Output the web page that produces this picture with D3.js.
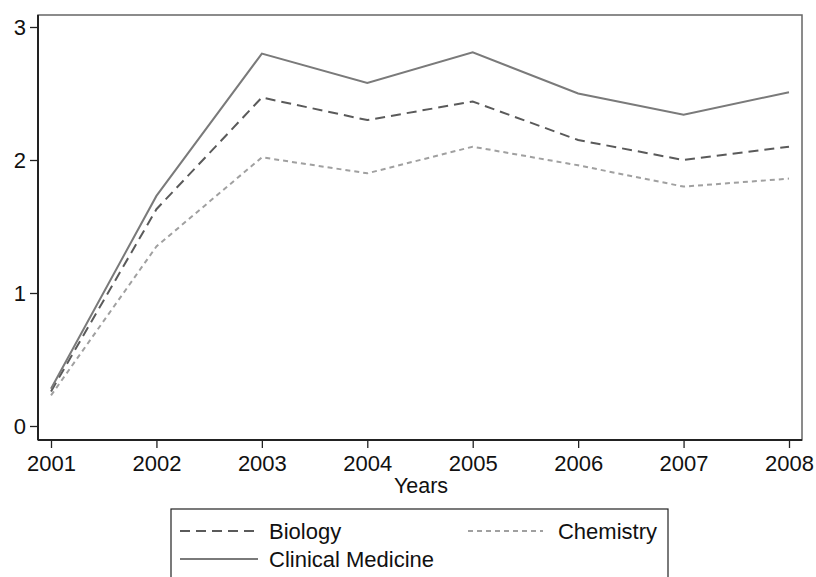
<!DOCTYPE html>
<html>
<head>
<meta charset="utf-8">
<script src="https://cdn.jsdelivr.net/npm/d3@7"></script>
<style>
  body { margin: 0; background: #fff; }
  text { font-family: "Liberation Sans", Arial, sans-serif; fill: #111; }
</style>
</head>
<body>
<script>
const years = [2001, 2002, 2003, 2004, 2005, 2006, 2007, 2008]
const biology = [0.26, 1.63, 2.47, 2.30, 2.44, 2.15, 2.00, 2.10]
const chemistry = [0.23, 1.35, 2.02, 1.90, 2.10, 1.96, 1.80, 1.86]
const clinical = [0.28, 1.73, 2.80, 2.58, 2.81, 2.50, 2.34, 2.51]
const yTicks = [0, 1, 2, 3]

const width = 816, height = 577
const frame = {left: 38, top: 15, right: 802, bottom: 440}

const svg = d3.select("body").append("svg")
    .attr("width", width)
    .attr("height", height)

// scales
const x = d3.scaleLinear().domain([2001, 2008]).range([51, 789])
const y = d3.scaleLinear().domain([0, 3]).range([426, 27])

// plot region outline
svg.append("rect")
    .attr("x", frame.left).attr("y", frame.top)
    .attr("width", frame.right - frame.left)
    .attr("height", frame.bottom - frame.top)
    .attr("fill", "none")
    .attr("stroke", "#666")
    .attr("stroke-width", 1.5)

// y axis
const yAxis = svg.append("g")
    .attr("transform", "translate(" + frame.left + ",0)")
    .call(d3.axisLeft(y).tickValues(yTicks).tickFormat(d3.format("d")).tickSize(8).tickPadding(4))
yAxis.select(".domain").remove()
yAxis.append("line")
    .attr("y1", frame.top).attr("y2", frame.bottom)
    .attr("stroke", "#222").attr("stroke-width", 2)
yAxis.selectAll(".tick line").attr("stroke", "#222").attr("stroke-width", 1.3)
yAxis.selectAll(".tick text")
    .attr("font-size", "22px")
    .attr("font-family", "Liberation Sans, Arial, sans-serif")
    .attr("fill", "#111")

// x axis
const xAxis = svg.append("g")
    .attr("transform", "translate(0," + frame.bottom + ")")
    .call(d3.axisBottom(x).tickValues(years).tickFormat(d3.format("d")).tickSize(8).tickPadding(7))
xAxis.select(".domain").remove()
xAxis.append("line")
    .attr("x1", frame.left).attr("x2", frame.right)
    .attr("stroke", "#222").attr("stroke-width", 2)
xAxis.selectAll(".tick line").attr("stroke", "#222").attr("stroke-width", 1.3)
xAxis.selectAll(".tick text")
    .attr("font-size", "22px")
    .attr("font-family", "Liberation Sans, Arial, sans-serif")
    .attr("fill", "#111")

svg.append("text")
    .attr("x", 421).attr("y", 493)
    .attr("text-anchor", "middle")
    .attr("font-size", "21.5px")
    .text("Years")

// series
const series = [
    {name: "Biology", values: biology, color: "#5a5a5a", dash: "10,6", width: 2},
    {name: "Chemistry", values: chemistry, color: "#a0a0a0", dash: "5,4", width: 2},
    {name: "Clinical Medicine", values: clinical, color: "#7a7a7a", dash: null, width: 2}
]

const line = d3.line()
    .x(function(d, i) { return x(years[i]); })
    .y(function(d) { return y(d); })

series.forEach(function(s) {
    svg.append("path")
        .datum(s.values)
        .attr("d", line)
        .attr("fill", "none")
        .attr("stroke", s.color)
        .attr("stroke-width", s.width)
        .attr("stroke-dasharray", s.dash)
})

// legend
svg.append("rect")
    .attr("x", 171).attr("y", 509)
    .attr("width", 668 - 171).attr("height", 90)
    .attr("fill", "none")
    .attr("stroke", "#222")
    .attr("stroke-width", 1.2)

const legendPos = [
    {x1: 180, x2: 258, ty: 531, tx: 269, anchor: "start"},
    {x1: 468, x2: 543, ty: 531, tx: 657, anchor: "end"},
    {x1: 180, x2: 258, ty: 559, tx: 269, anchor: "start"}
]

series.forEach(function(s, i) {
    const p = legendPos[i]
    svg.append("line")
        .attr("x1", p.x1).attr("x2", p.x2)
        .attr("y1", p.ty).attr("y2", p.ty)
        .attr("stroke", s.color)
        .attr("stroke-width", s.width)
        .attr("stroke-dasharray", s.dash)
    svg.append("text")
        .attr("x", p.tx).attr("y", p.ty)
        .attr("dy", "0.36em")
        .attr("text-anchor", p.anchor)
        .attr("font-size", "22px")
        .text(s.name)
})
</script>
</body>
</html>
